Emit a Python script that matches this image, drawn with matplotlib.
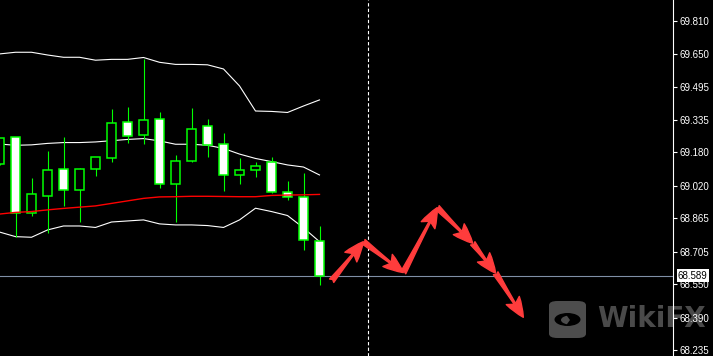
import matplotlib
matplotlib.use('Agg')
import matplotlib.pyplot as plt
from matplotlib.patches import Rectangle, FancyArrowPatch, FancyBboxPatch, Circle, Wedge

# candle data (bar index 0..20)
opens  = [69.123, 69.252, 68.889, 68.970, 69.099, 69.002, 69.099, 69.152, 69.324, 69.262, 69.338,
          69.028, 69.140, 69.305, 69.219, 69.071, 69.095, 69.133, 68.989, 68.965, 68.755]
highs  = [69.251, 69.252, 69.058, 69.187, 69.254, 69.105, 69.157, 69.388, 69.397, 69.627, 69.373,
          69.166, 69.392, 69.340, 69.273, 69.152, 69.136, 69.157, 69.043, 69.082, 68.828]
lows   = [69.120, 68.777, 68.877, 68.793, 68.925, 68.849, 69.069, 69.136, 69.227, 69.222, 69.011,
          68.849, 69.133, 69.157, 68.997, 69.030, 69.064, 68.987, 68.954, 68.715, 68.547]
closes = [69.248, 68.889, 68.980, 69.095, 69.002, 69.099, 69.157, 69.319, 69.257, 69.334, 69.028,
          69.138, 69.291, 69.214, 69.071, 69.095, 69.114, 68.989, 68.965, 68.760, 68.589]

# bollinger bands + red moving average
bb_upper = [69.651, 69.659, 69.659, 69.646, 69.635, 69.635, 69.621, 69.625, 69.625, 69.634, 69.611,
            69.601, 69.601, 69.599, 69.579, 69.498, 69.378, 69.376, 69.371, 69.402, 69.431]
bb_mid   = [69.220, 69.214, 69.216, 69.223, 69.227, 69.227, 69.230, 69.236, 69.242, 69.246, 69.235,
            69.219, 69.219, 69.214, 69.199, 69.172, 69.151, 69.136, 69.120, 69.110, 69.072]
bb_lower = [68.799, 68.777, 68.774, 68.809, 68.828, 68.828, 68.821, 68.847, 68.852, 68.857, 68.838,
            68.833, 68.833, 68.830, 68.821, 68.857, 68.913, 68.897, 68.878, 68.819, 68.753]
ma_red   = [68.885, 68.893, 68.897, 68.905, 68.912, 68.918, 68.924, 68.936, 68.948, 68.960, 68.967,
            68.968, 68.970, 68.970, 68.969, 68.968, 68.968, 68.974, 68.976, 68.977, 68.979]

# forecast arrows (bar index, price)
arrow_x = [20.76, 22.74, 25.24, 27.36, 29.58, 31.01, 32.74]
arrow_y = [68.566, 68.753, 68.605, 68.916, 68.745, 68.602, 68.391]

price_ticks = [68.235, 68.390, 68.550, 68.705, 68.865, 69.020, 69.180, 69.335, 69.495, 69.650, 69.810]
last_price = 68.589
vline_bar = 23

fig = plt.figure(figsize=(7.13, 3.56), dpi=100, facecolor='black')
ax = fig.add_axes([0, 0, 673/713, 1])
ax.set_facecolor('none')

# watermark (behind everything)
fig.text(597/713, 1 - 319/356, 'WikiFX', color='#4a4a4a', fontsize=20, fontweight='bold',
         ha='left', va='center', zorder=-5)
logo = FancyBboxPatch((549/713, 1 - 338/356), 37/713, 37/356, boxstyle='round,pad=0,rounding_size=0.012',
                      transform=fig.transFigure, fc='#4d4d4d', ec='none', zorder=-5)
fig.patches.append(logo)
fig.patches.append(Circle((567.5/713, 1 - 319.5/356), 13/713, transform=fig.transFigure,
                          fc='black', ec='none', zorder=-4))
fig.patches.append(Wedge((570/713, 1 - 320/356), 9/713, 110, 250, transform=fig.transFigure,
                         fc='#4d4d4d', ec='none', zorder=-3))

green = '#00ff00'
# wicks
ax.vlines(range(len(opens)), lows, highs, color=green, linewidth=0.8, zorder=3)
# bodies
for i in range(len(opens)):
    o, c = opens[i], closes[i]
    fc = 'white' if c < o else 'black'
    ax.add_patch(Rectangle((i - 0.31, min(o, c)), 0.62, max(abs(c - o), 0.0008),
                           fc=fc, ec=green, linewidth=1.1, zorder=4))

xs = range(len(bb_upper))
ax.plot(xs, bb_upper, color='white', linewidth=0.8, zorder=2)
ax.plot(xs, bb_mid, color='white', linewidth=0.8, zorder=2)
ax.plot(xs, bb_lower, color='white', linewidth=0.8, zorder=2)
ax.plot(xs, ma_red, color='#ff0000', linewidth=1.0, zorder=5)

# current price line + period separator
ax.axhline(last_price, color='#7f8fa6', linewidth=0.8, zorder=1)
ax.axvline(vline_bar, color='white', linewidth=0.8, linestyle=(0, (3, 2)), zorder=1)

for k in range(len(arrow_x) - 1):
    arr = FancyArrowPatch((arrow_x[k], arrow_y[k]), (arrow_x[k + 1], arrow_y[k + 1]),
                          arrowstyle='fancy,head_length=1.1,head_width=0.85,tail_width=0.3',
                          mutation_scale=13, color='#ff3c3c', shrinkA=0, shrinkB=0, zorder=6)
    ax.add_patch(arr)

ax.set_xlim(0.5/16, 673.5/16)
ax.set_ylim(68.206, 69.909)
ax.set_xticks([])
ax.yaxis.tick_right()
ax.set_yticks(price_ticks)
ax.set_yticklabels(['%.3f' % t for t in price_ticks], fontfamily='Liberation Sans')
ax.tick_params(axis='y', colors='white', direction='out', length=3, width=0.8, pad=2, labelsize=7)
for s in ['left', 'top', 'bottom']:
    ax.spines[s].set_visible(False)
ax.spines['right'].set_color('white')
ax.spines['right'].set_linewidth(0.8)

ax.annotate('%.3f' % last_price, xy=(1, last_price), xycoords=('axes fraction', 'data'),
            xytext=(5, 0), textcoords='offset pixels', ha='left', va='center',
            fontsize=7, fontfamily='Liberation Sans', color='black', annotation_clip=False,
            bbox=dict(boxstyle='square,pad=0.15', fc='white', ec='none'), zorder=10)

plt.savefig('out.png', dpi=100, facecolor='black')
